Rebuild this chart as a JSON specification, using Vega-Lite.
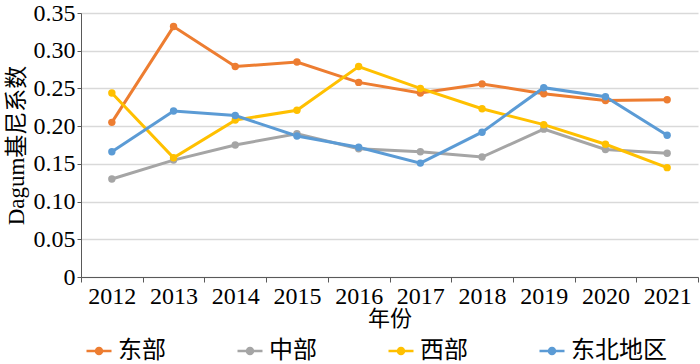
{
  "$schema": "https://vega.github.io/schema/vega-lite/v6.json",
  "width": 617,
  "height": 264,
  "autosize": {"type": "none"},
  "padding": {"left": 81, "top": 13, "right": 2, "bottom": 87},
  "background": "white",
  "data": {"values": [
    {"year": "2012", "region": "东部", "v": 0.205},
    {"year": "2013", "region": "东部", "v": 0.332},
    {"year": "2014", "region": "东部", "v": 0.279},
    {"year": "2015", "region": "东部", "v": 0.285},
    {"year": "2016", "region": "东部", "v": 0.258},
    {"year": "2017", "region": "东部", "v": 0.244},
    {"year": "2018", "region": "东部", "v": 0.256},
    {"year": "2019", "region": "东部", "v": 0.243},
    {"year": "2020", "region": "东部", "v": 0.234},
    {"year": "2021", "region": "东部", "v": 0.235},
    {"year": "2012", "region": "中部", "v": 0.130},
    {"year": "2013", "region": "中部", "v": 0.155},
    {"year": "2014", "region": "中部", "v": 0.175},
    {"year": "2015", "region": "中部", "v": 0.190},
    {"year": "2016", "region": "中部", "v": 0.170},
    {"year": "2017", "region": "中部", "v": 0.166},
    {"year": "2018", "region": "中部", "v": 0.159},
    {"year": "2019", "region": "中部", "v": 0.196},
    {"year": "2020", "region": "中部", "v": 0.169},
    {"year": "2021", "region": "中部", "v": 0.164},
    {"year": "2012", "region": "西部", "v": 0.244},
    {"year": "2013", "region": "西部", "v": 0.158},
    {"year": "2014", "region": "西部", "v": 0.208},
    {"year": "2015", "region": "西部", "v": 0.221},
    {"year": "2016", "region": "西部", "v": 0.279},
    {"year": "2017", "region": "西部", "v": 0.250},
    {"year": "2018", "region": "西部", "v": 0.223},
    {"year": "2019", "region": "西部", "v": 0.202},
    {"year": "2020", "region": "西部", "v": 0.176},
    {"year": "2021", "region": "西部", "v": 0.145},
    {"year": "2012", "region": "东北地区", "v": 0.166},
    {"year": "2013", "region": "东北地区", "v": 0.220},
    {"year": "2014", "region": "东北地区", "v": 0.214},
    {"year": "2015", "region": "东北地区", "v": 0.187},
    {"year": "2016", "region": "东北地区", "v": 0.172},
    {"year": "2017", "region": "东北地区", "v": 0.151},
    {"year": "2018", "region": "东北地区", "v": 0.192},
    {"year": "2019", "region": "东北地区", "v": 0.251},
    {"year": "2020", "region": "东北地区", "v": 0.239},
    {"year": "2021", "region": "东北地区", "v": 0.188}
  ]},
  "mark": {"type": "line", "strokeWidth": 3, "point": {"size": 55, "filled": true}},
  "encoding": {
    "x": {
      "field": "year", "type": "ordinal",
      "scale": {"paddingInner": 0, "paddingOuter": 0},
      "axis": {
        "title": "年份", "titleFont": "Liberation Serif, Noto Sans CJK SC", "titleFontSize": 22, "titleFontWeight": "normal",
        "titleColor": "#000", "titlePadding": 0,
        "labelAngle": 0, "labelFont": "Liberation Serif", "labelFontSize": 24, "labelColor": "#000",
        "labelPadding": 2,
        "tickBand": "extent", "tickSize": 5, "tickColor": "#595959", "domainColor": "#595959",
        "grid": false
      }
    },
    "y": {
      "field": "v", "type": "quantitative",
      "scale": {"domain": [0, 0.35], "nice": false},
      "axis": {
        "title": "Dagum基尼系数", "titleFont": "Liberation Serif, Noto Sans CJK SC", "titleFontSize": 23, "titleFontWeight": "normal",
        "titleColor": "#000", "titlePadding": 5,
        "values": [0, 0.05, 0.1, 0.15, 0.2, 0.25, 0.3, 0.35],
        "labelExpr": "datum.value == 0 ? '0' : format(datum.value, '.2f')",
        "labelFont": "Liberation Serif", "labelFontSize": 24, "labelColor": "#000", "labelPadding": 2,
        "tickSize": 4, "tickColor": "#595959", "domainColor": "#595959",
        "grid": true, "gridColor": "#d9d9d9", "gridWidth": 1.5
      }
    },
    "color": {
      "field": "region", "type": "nominal",
      "sort": ["东部", "中部", "西部", "东北地区"],
      "scale": {"domain": ["东部", "中部", "西部", "东北地区"], "range": ["#ED7D31", "#A5A5A5", "#FFC000", "#5B9BD5"]},
      "legend": {
        "title": null, "orient": "none", "legendX": 4, "legendY": 324,
        "direction": "horizontal", "columns": 4,
        "gridAlign": "all", "columnPadding": 18,
        "labelFont": "Liberation Serif, Noto Sans CJK SC", "labelFontSize": 24, "labelColor": "#000",
        "symbolType": "M-1,0L1,0M-0.24,0A0.24,0.24 0 1,0 0.24,0A0.24,0.24 0 1,0 -0.24,0",
        "symbolSize": 625, "symbolStrokeWidth": 2.5, "labelOffset": 5,
        "encode": {"symbols": {"update": {"fill": {"field": "value", "scale": "color"}}}}
      }
    }
  },
  "config": {"view": {"stroke": null}}
}
